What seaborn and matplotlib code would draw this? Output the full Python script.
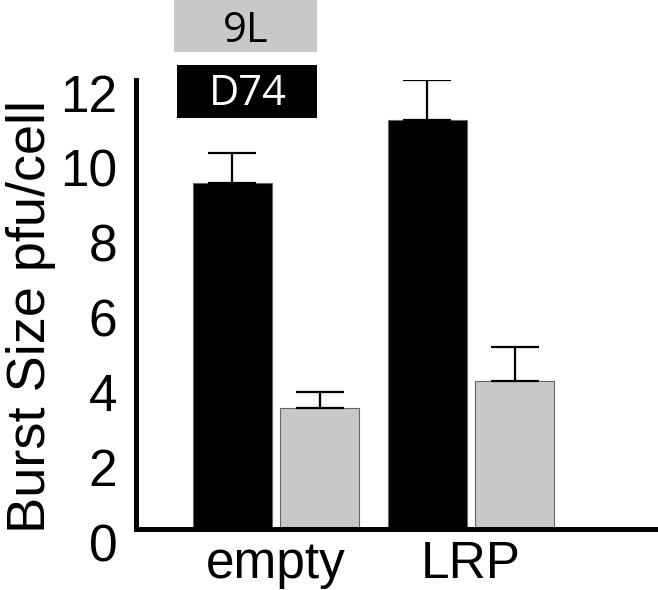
import numpy as np
import pandas as pd
import matplotlib.pyplot as plt
import seaborn as sns
from matplotlib.patches import Rectangle
from matplotlib.transforms import ScaledTranslation

# data
groups = ['empty', 'LRP']
cell_lines = ['D74', '9L']
d74_mean = [9.25, 10.93]
d74_err = [0.80, 1.07]
l9_mean = [3.23, 3.95]
l9_err = [0.43, 0.91]
y_ticks = [0, 2, 4, 6, 8, 10, 12]
colors = {'D74': '#000000', '9L': '#c8c8c8'}

df = pd.DataFrame({
    'group': groups * 2,
    'line': ['D74'] * 2 + ['9L'] * 2,
    'burst': d74_mean + l9_mean,
    'err': d74_err + l9_err,
})

sns.set_theme(style='white')
plt.rcParams['font.family'] = ['Liberation Sans', 'DejaVu Sans']
plt.rcParams['text.color'] = 'black'
plt.rcParams['axes.labelcolor'] = 'black'
plt.rcParams['xtick.color'] = 'black'
plt.rcParams['ytick.color'] = 'black'

fig = plt.figure(figsize=(6.58, 5.9), dpi=100)
ax = fig.add_axes([135.5 / 658, 61 / 590, 521.5 / 658, 449 / 590])

sns.barplot(data=df, x='group', y='burst', hue='line', order=groups,
            hue_order=cell_lines, palette=colors, width=0.9, gap=0.1,
            edgecolor='#666666', linewidth=0.8, errorbar=None,
            legend=False, ax=ax)

# one-sided error bars on top of each bar
for container, line in zip(ax.containers, cell_lines):
    sub = df[df['line'] == line].set_index('group').loc[groups]
    xs = [b.get_x() + b.get_width() / 2 for b in container]
    ys = [b.get_height() for b in container]
    ax.errorbar(xs, ys, yerr=[np.zeros(len(xs)), sub['err'].values],
                fmt='none', ecolor='black', elinewidth=1.6,
                capsize=17.6, capthick=1.6)

ax.set_xlim(-0.72, 1.954)
ax.set_ylim(0, 12)
ax.set_yticks(y_ticks)
ax.set_xlabel('')
ax.set_ylabel('Burst Size pfu/cell', fontsize=39)
ax.yaxis.set_label_coords(-0.153, 0.474)
ax.tick_params(axis='both', length=0, labelsize=37, labelcolor='black')
ax.tick_params(axis='y', pad=13)
ax.tick_params(axis='x', pad=8)

for side in ['top', 'right']:
    ax.spines[side].set_visible(False)
for side in ['left', 'bottom']:
    ax.spines[side].set_linewidth(3.6)
    ax.spines[side].set_color('black')

# tick labels sit a little below their ticks in the original
offset = ScaledTranslation(0, -13 / 100, fig.dpi_scale_trans)
for lab in ax.get_yticklabels():
    lab.set_transform(lab.get_transform() + offset)

# legend boxes at the top
fig.patches.append(Rectangle((174 / 658, 1 - 52 / 590), 143 / 658, 52 / 590,
                             transform=fig.transFigure, facecolor='#c8c8c8',
                             edgecolor='none'))
fig.patches.append(Rectangle((177 / 658, 1 - 118 / 590), 140 / 658, 53 / 590,
                             transform=fig.transFigure, facecolor='black',
                             edgecolor='none', zorder=3))
fig.text(246 / 658, 1 - 31 / 590, '9L', ha='center', va='center',
         fontsize=30, color='black', family=['Open Sans', 'DejaVu Sans'])
fig.text(248 / 658, 1 - 94 / 590, 'D74', ha='center', va='center',
         fontsize=30, color='white', family=['Open Sans', 'DejaVu Sans'],
         zorder=4)

fig.savefig('out.png', dpi=100)
